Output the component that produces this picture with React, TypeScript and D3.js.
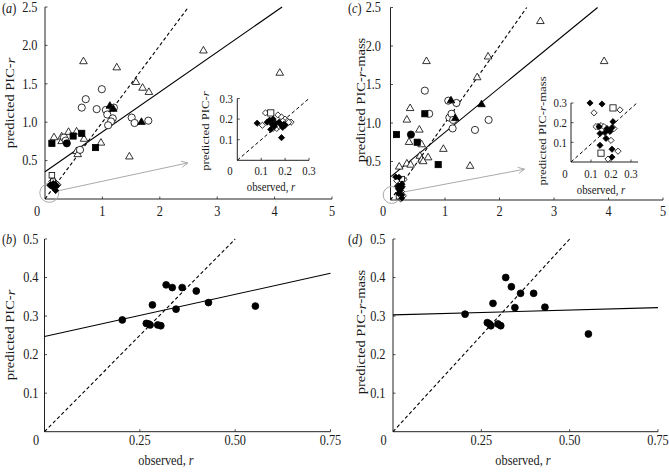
import React from 'react';
import * as d3 from 'd3';

type P = [number, number];

// ---------- Panel (a): predicted PIC-r vs observed r ----------
const aOpenTriangles: P[] = [[2.76,1.93],[0.67,1.79],[1.25,1.71],[1.585,1.52],[1.70,1.445],[1.81,1.39],[4.09,1.64],[1.47,0.55],[0.157,0.80],[0.29,0.81],[0.32,0.78],[0.29,0.75],[0.41,0.87],[0.55,0.875],[0.68,0.78],[0.975,0.73],[0.55,0.62],[0.57,0.58]];
const aOpenCircles: P[] = [[0.99,1.43],[0.71,1.30],[0.64,1.19],[0.90,1.17],[1.06,1.16],[1.2,1.19],[1.085,1.10],[1.18,1.05],[1.15,1.01],[1.10,0.96],[1.51,1.06],[1.56,0.99],[1.80,1.02],[0.61,0.64],[0.33,0.80],[0.36,0.76]];
const aFilledTriangles: P[] = [[1.13,1.21],[1.19,1.17],[1.68,1.0]];
const aFilledSquares: P[] = [[0.12,0.725],[0.49,0.82],[0.64,0.855],[0.88,0.67]];
const aFilledCircles: P[] = [[0.38,0.725]];
const aOpenSquares: P[] = [[0.12,0.31]];
const aFit: P[] = [[0, 0.355], [4.13, 2.5]];
// inset (a) points (also plotted in main panel)
const aInsetFilledDiamonds: P[] = [[0.083,0.18],[0.125,0.185],[0.135,0.195],[0.15,0.20],[0.16,0.18],[0.14,0.15],[0.155,0.165],[0.175,0.185],[0.185,0.17],[0.195,0.175],[0.19,0.16],[0.20,0.17],[0.185,0.11],[0.145,0.175]];
const aInsetOpenDiamonds: P[] = [[0.118,0.23],[0.105,0.17],[0.17,0.22],[0.185,0.21],[0.20,0.20],[0.21,0.19],[0.225,0.185],[0.15,0.155],[0.165,0.155],[0.175,0.165],[0.19,0.19],[0.215,0.185]];
const aInsetOpenSquares: P[] = [[0.14,0.23]];

// ---------- Panel (c): predicted PIC-r-mass vs observed r ----------
const cOpenTriangles: P[] = [[0.66,1.80],[0.36,1.19],[0.30,1.04],[0.53,0.91],[0.34,0.75],[0.57,0.72],[0.97,0.66],[0.69,0.55],[0.54,0.57],[0.57,0.52],[0.60,0.50],[0.16,0.43],[0.30,0.47],[0.37,0.455],[1.46,0.44],[1.59,1.59],[1.79,1.86],[2.75,2.32],[3.92,1.80]];
const cOpenCircles: P[] = [[0.63,1.42],[1.06,1.29],[1.21,1.26],[1.08,1.07],[1.12,1.12],[1.15,1.04],[1.14,0.93],[1.55,0.91],[1.80,1.04],[0.71,1.12]];
const cFilledTriangles: P[] = [[1.11,1.29],[1.19,1.06],[1.67,1.24]];
const cFilledSquares: P[] = [[0.11,0.85],[0.49,0.75],[0.63,1.12],[0.875,0.46]];
const cFilledCircles: P[] = [[0.375,0.85]];
const cFit: P[] = [[0, 0.30], [3.8, 2.5]];
const cInsetFilledDiamonds: P[] = [[0.095,0.30],[0.155,0.295],[0.21,0.205],[0.14,0.18],[0.18,0.17],[0.195,0.155],[0.205,0.175],[0.145,0.145],[0.175,0.12],[0.145,0.085],[0.205,0.065],[0.205,0.025],[0.17,0.15]];
const cInsetOpenDiamonds: P[] = [[0.115,0.25],[0.245,0.265],[0.135,0.18],[0.15,0.185],[0.165,0.18],[0.215,0.17],[0.2,0.11],[0.235,0.055],[0.185,0.015],[0.125,0.18]];
const cInsetOpenSquares: P[] = [[0.21,0.275],[0.15,0.045]];

// ---------- Panels (b) and (d) ----------
const observed = [0.204,0.267,0.273,0.277,0.283,0.297,0.305,0.319,0.335,0.345,0.361,0.398,0.43,0.553];
const bPredicted = [0.29,0.281,0.2795,0.277,0.329,0.277,0.275,0.381,0.374,0.318,0.374,0.365,0.335,0.326];
const dPredicted = [0.305,0.283,0.2795,0.275,0.333,0.2795,0.275,0.40,0.376,0.322,0.359,0.359,0.323,0.2535];
const bFit: P[] = [[0, 0.247], [0.75, 0.411]];
const dFit: P[] = [[0, 0.303], [0.75, 0.322]];

// ticks
const mainXTicks = [1, 2, 3, 4, 5];
const mainYTicks = [0.5, 1.0, 1.5, 2.0, 2.5];
const lowXTicks = [0.25, 0.5, 0.75];
const lowYTicks = [0.1, 0.2, 0.3, 0.4, 0.5];
const insetTicks = [0.1, 0.2, 0.3];

const FONT = '"Liberation Serif", "Times New Roman", serif';
const SY = 1.18;
const FS = 12.3;

type Sc = d3.ScaleLinear<number, number>;

function Txt({ x, y, children, anchor = 'middle', rotate = 0, size = FS }: any) {
  return (
    <g transform={`translate(${x},${y}) scale(1,${SY}) rotate(${rotate})`}>
      <text textAnchor={anchor} dominantBaseline="central" fontSize={size} fontFamily={FONT} fill="#1a1a1a">
        {children}
      </text>
    </g>
  );
}

const It = ({ children }: any) => <tspan fontStyle="italic">{children}</tspan>;

function Marker({ kind, x, y, s = 1 }: { kind: string; x: number; y: number; s?: number }) {
  const open = kind.startsWith('open');
  const fill = open ? '#fff' : '#000';
  const common = { fill, stroke: '#000', strokeWidth: 0.8 };
  if (kind.endsWith('tri')) {
    const w = 7.6 * s, h = w * 0.866;
    const d = `M${x},${y - (2 * h) / 3}L${x + w / 2},${y + h / 3}L${x - w / 2},${y + h / 3}Z`;
    return <path d={d} {...common} />;
  }
  if (kind.endsWith('circle')) return <circle cx={x} cy={y} r={3.6 * s} {...common} />;
  if (kind.endsWith('square')) {
    const a = 6.2 * s;
    return <rect x={x - a / 2} y={y - a / 2} width={a} height={a} {...common} />;
  }
  // diamond
  const a = 3.1 * s;
  const d = `M${x},${y - a}L${x + a},${y}L${x},${y + a}L${x - a},${y}Z`;
  return <path d={d} {...common} />;
}

function Points({ data, kind, x, y, s = 1 }: { data: P[]; kind: string; x: Sc; y: Sc; s?: number }) {
  return (
    <g>
      {data.map((p, i) => (
        <Marker key={i} kind={kind} x={x(p[0])} y={y(p[1])} s={s} />
      ))}
    </g>
  );
}

function Line({ pts, x, y, dashed = false, color = '#000', w = 1.1 }: any) {
  const gen = d3.line<P>().x((d) => x(d[0])).y((d) => y(d[1]));
  return <path d={gen(pts) || ''} fill="none" stroke={color} strokeWidth={w} strokeDasharray={dashed ? '3.5,2.5' : undefined} />;
}

function Axes({ x, y, xTicks, yTicks, xFmt, yFmt, xLabY, yLabX, zeroX, zeroY, size = FS, xEnd }: any) {
  const [x0] = x.range();
  const x1 = xEnd !== undefined ? x(xEnd) : x.range()[1];
  const [y0, y1] = y.range();
  return (
    <g>
      <line x1={x0} x2={x1} y1={y0} y2={y0} stroke="#222" strokeWidth={1} />
      <line x1={x0} x2={x0} y1={y0} y2={y1} stroke="#222" strokeWidth={1} />
      {xTicks.map((t: number) => (
        <g key={'x' + t}>
          <line x1={x(t)} x2={x(t)} y1={y0} y2={y0 - 2.5} stroke="#222" strokeWidth={0.8} />
          <Txt x={x(t)} y={xLabY} size={size}>{xFmt(t)}</Txt>
        </g>
      ))}
      {yTicks.map((t: number) => (
        <g key={'y' + t}>
          <line x1={x0} x2={x0 + 2.5} y1={y(t)} y2={y(t)} stroke="#222" strokeWidth={0.8} />
          <Txt x={yLabX} y={y(t)} anchor="end" size={size}>{yFmt(t)}</Txt>
        </g>
      ))}
      <Txt x={zeroX} y={zeroY} size={size}>0</Txt>
    </g>
  );
}

function Arrow({ from, to, x, y }: any) {
  const x1 = x(from[0]), y1 = y(from[1]), x2 = x(to[0]), y2 = y(to[1]);
  const ang = Math.atan2(y2 - y1, x2 - x1);
  const L = 7, spread = 0.45;
  const ax = x2 - L * Math.cos(ang - spread), ay = y2 - L * Math.sin(ang - spread);
  const bx = x2 - L * Math.cos(ang + spread), by = y2 - L * Math.sin(ang + spread);
  return (
    <g stroke="#aaa" strokeWidth={1} fill="none">
      <line x1={x1} y1={y1} x2={x2} y2={y2} />
      <path d={`M${ax},${ay}L${x2},${y2}L${bx},${by}`} />
    </g>
  );
}

export default function App() {
  const f1 = d3.format('.1f');
  const f2 = d3.format('.2f');

  // scales
  const ax = d3.scaleLinear().domain([0, 5]).range([45, 332]);
  const ay = d3.scaleLinear().domain([0, 2.5]).range([199, 7]);
  const cx = d3.scaleLinear().domain([0, 5]).range([390.5, 663]);
  const cy = d3.scaleLinear().domain([0, 2.5]).range([200, 7.5]);
  const bx = d3.scaleLinear().domain([0, 0.75]).range([44.5, 330.5]);
  const by = d3.scaleLinear().domain([0, 0.5]).range([431.7, 239]);
  const dx = d3.scaleLinear().domain([0, 0.75]).range([393, 658]);
  const dy = d3.scaleLinear().domain([0, 0.5]).range([431.7, 239]);
  const iax = d3.scaleLinear().domain([0, 0.3]).range([237.3, 309]);
  const iay = d3.scaleLinear().domain([0, 0.3]).range([160.3, 98.5]);
  const icx = d3.scaleLinear().domain([0, 0.3]).range([571, 631]);
  const icy = d3.scaleLinear().domain([0, 0.3]).range([162, 103]);

  const bPts: P[] = observed.map((o, i) => [o, bPredicted[i]]);
  const dPts: P[] = observed.map((o, i) => [o, dPredicted[i]]);
  const IS = 10.8;

  return (
    <svg width={669} height={474} style={{ position: 'absolute', left: 0, top: 0, background: '#fff' }}>
      <rect width={669} height={474} fill="#fff" />

      {/* ---------- (a) ---------- */}
      <Axes x={ax} y={ay} xTicks={mainXTicks} yTicks={mainYTicks} xFmt={(d: number) => String(d)} yFmt={f1}
        xLabY={211.5} yLabX={37.5} zeroX={37} zeroY={211.5} />
      <Txt x={2} y={8} anchor="start">(<It>a</It>)</Txt>
      <Txt x={10} y={103} rotate={-90}>predicted PIC-<It>r</It></Txt>
      <Line pts={[[0, 0], [2.5, 2.5]]} x={ax} y={ay} dashed />
      <Line pts={aFit} x={ax} y={ay} />
      <circle cx={ax(0.075)} cy={ay(0.08)} r={9.5} fill="none" stroke="#aaa" strokeWidth={1} />
      <Arrow from={[0.245, 0.11]} to={[2.49, 0.47]} x={ax} y={ay} />
      <Points data={aOpenTriangles} kind="opentri" x={ax} y={ay} />
      <Points data={aOpenCircles} kind="opencircle" x={ax} y={ay} />
      <Points data={aOpenSquares} kind="opensquare" x={ax} y={ay} s={0.9} />
      <Points data={aFilledSquares} kind="filledsquare" x={ax} y={ay} />
      <Points data={aFilledCircles} kind="filledcircle" x={ax} y={ay} />
      <Points data={aFilledTriangles} kind="filledtri" x={ax} y={ay} />
      <Points data={aInsetOpenDiamonds} kind="opendiamond" x={ax} y={ay} />
      <Points data={aInsetOpenSquares} kind="opensquare" x={ax} y={ay} s={0.8} />
      <Points data={aInsetFilledDiamonds} kind="filleddiamond" x={ax} y={ay} />

      {/* inset (a) */}
      <Axes x={iax} y={iay} xTicks={insetTicks} yTicks={insetTicks} xFmt={f1} yFmt={f1}
        xLabY={171} yLabX={233} zeroX={230} zeroY={171} size={IS} />
      <Txt x={205} y={131} rotate={-90} size={IS}>predicted PIC-<It>r</It></Txt>
      <Txt x={271} y={186.5} size={IS}>observed, <It>r</It></Txt>
      <Line pts={[[0, 0], [0.3, 0.3]]} x={iax} y={iay} dashed w={1} />
      <Points data={aInsetOpenDiamonds} kind="opendiamond" x={iax} y={iay} />
      <Points data={aInsetOpenSquares} kind="opensquare" x={iax} y={iay} />
      <Points data={aInsetFilledDiamonds} kind="filleddiamond" x={iax} y={iay} />

      {/* ---------- (c) ---------- */}
      <Axes x={cx} y={cy} xTicks={mainXTicks} yTicks={mainYTicks} xFmt={(d: number) => String(d)} yFmt={f1}
        xLabY={211.5} yLabX={381} zeroX={383} zeroY={211.5} />
      <Txt x={348} y={8} anchor="start">(<It>c</It>)</Txt>
      <Txt x={361} y={100} rotate={-90}>predicted PIC-<It>r</It>-mass</Txt>
      <Line pts={[[0, 0], [2.5, 2.5]]} x={cx} y={cy} dashed />
      <Line pts={cFit} x={cx} y={cy} />
      <circle cx={cx(0.022)} cy={cy(0.065)} r={8.5} fill="none" stroke="#aaa" strokeWidth={1} />
      <Arrow from={[0.115, 0.087]} to={[2.46, 0.40]} x={cx} y={cy} />
      <Points data={cOpenTriangles} kind="opentri" x={cx} y={cy} />
      <Points data={cOpenCircles} kind="opencircle" x={cx} y={cy} />
      <Points data={cFilledSquares} kind="filledsquare" x={cx} y={cy} />
      <Points data={cFilledCircles} kind="filledcircle" x={cx} y={cy} />
      <Points data={cFilledTriangles} kind="filledtri" x={cx} y={cy} />
      <Points data={cInsetOpenDiamonds} kind="opendiamond" x={cx} y={cy} />
      <Points data={cInsetOpenSquares} kind="opensquare" x={cx} y={cy} s={0.8} />
      <Points data={cInsetFilledDiamonds} kind="filleddiamond" x={cx} y={cy} />

      {/* inset (c) */}
      <Axes x={icx} y={icy} xTicks={insetTicks} yTicks={insetTicks} xFmt={f1} yFmt={f1}
        xLabY={174} yLabX={567} zeroX={565} zeroY={174} size={IS} xEnd={0.335} />
      <Txt x={542} y={131} rotate={-90} size={IS}>predicted PIC-<It>r</It>-mass</Txt>
      <Txt x={601} y={190} size={IS}>observed, <It>r</It></Txt>
      <Line pts={[[0, 0], [0.335, 0.305]]} x={icx} y={icy} dashed w={1} />
      <Points data={cInsetOpenDiamonds} kind="opendiamond" x={icx} y={icy} />
      <Points data={cInsetOpenSquares} kind="opensquare" x={icx} y={icy} />
      <Points data={cInsetFilledDiamonds} kind="filleddiamond" x={icx} y={icy} />

      {/* ---------- (b) ---------- */}
      <Axes x={bx} y={by} xTicks={lowXTicks} yTicks={lowYTicks} xFmt={f2} yFmt={f1}
        xLabY={440.5} yLabX={38.5} zeroX={36} zeroY={440.5} />
      <Txt x={2} y={239} anchor="start">(<It>b</It>)</Txt>
      <Txt x={10} y={335} rotate={-90}>predicted PIC-<It>r</It></Txt>
      <Txt x={166} y={460}>observed, <It>r</It></Txt>
      <Line pts={[[0, 0], [0.5, 0.5]]} x={bx} y={by} dashed />
      <Line pts={bFit} x={bx} y={by} />
      <Points data={bPts} kind="filledcircle" x={bx} y={by} s={0.95} />

      {/* ---------- (d) ---------- */}
      <Axes x={dx} y={dy} xTicks={lowXTicks} yTicks={lowYTicks} xFmt={f2} yFmt={f1}
        xLabY={440.5} yLabX={385.5} zeroX={383.5} zeroY={440.5} />
      <Txt x={348} y={239} anchor="start">(<It>d</It>)</Txt>
      <Txt x={361} y={332} rotate={-90}>predicted PIC-<It>r</It>-mass</Txt>
      <Txt x={523} y={460}>observed, <It>r</It></Txt>
      <Line pts={[[0, 0], [0.5, 0.5]]} x={dx} y={dy} dashed />
      <Line pts={dFit} x={dx} y={dy} />
      <Points data={dPts} kind="filledcircle" x={dx} y={dy} s={0.95} />
    </svg>
  );
}
